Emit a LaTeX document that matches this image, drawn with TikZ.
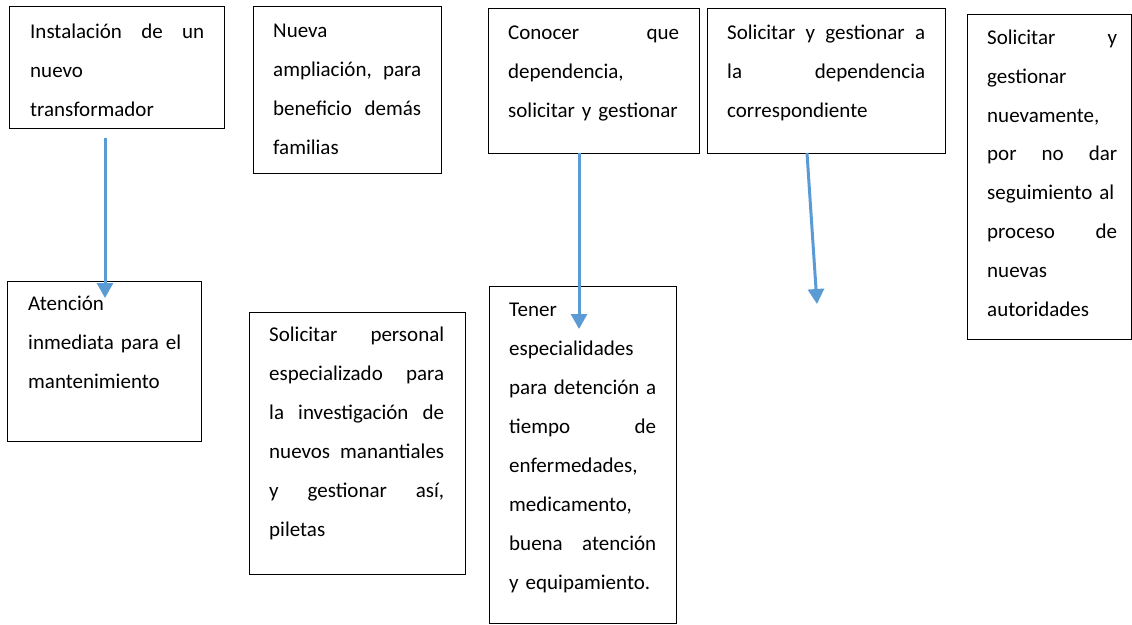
\documentclass[tikz,border=0pt]{standalone}
\usepackage{fontspec}
\setmainfont{Carlito}
\usetikzlibrary{arrows.meta}
\definecolor{arrowblue}{HTML}{5B9BD5}
\newcommand\J[1]{\leavevmode\hbox to \hsize{\spaceskip=0.3em plus 10em\relax #1}}
\newcommand\F{\rule{0pt}{17pt}}
\tikzset{
  box/.style={draw=black, line width=1.1pt, inner sep=0pt, anchor=north west},
  txt/.style={inner sep=0pt, anchor=north west, align=left, font=\fontsize{21}{38.9}\selectfont},
  conn/.style={draw=arrowblue, line width=3pt, -{Triangle[width=16pt,length=15pt]}}
}
\begin{document}
\begin{tikzpicture}[x=1pt,y=-1pt]
\useasboundingbox (0,0) rectangle (1132,624);
% boxes
\node[box, minimum width=215pt, minimum height=122pt] (b1) at (9,6) {};
\node[box, minimum width=188pt, minimum height=167pt] (b2) at (253,6) {};
\node[box, minimum width=211pt, minimum height=145pt] (b3) at (488,8) {};
\node[box, minimum width=238pt, minimum height=145pt] (b4) at (707,8) {};
\node[box, minimum width=164pt, minimum height=325pt] (b5) at (967,14) {};
\node[box, minimum width=194pt, minimum height=160pt] (b6) at (7,281) {};
\node[box, minimum width=216pt, minimum height=262pt] (b7) at (249,312) {};
\node[box, minimum width=187pt, minimum height=337pt] (b8) at (489,286) {};
% texts
\node[txt, text width=174pt] (t1) at (30,21) {\J{\F Instalación de un}\\nuevo\\transformador};
\node[txt, text width=148pt] (t2) at (273,20.5) {\F Nueva\\\J{ampliación, para}\\\J{beneficio demás}\\familias};
\node[txt, text width=171pt] (t3) at (508,22) {\J{\F Conocer que}\\dependencia,\\solicitar y gestionar};
\node[txt, text width=198pt] (t4) at (727,22) {\J{\F Solicitar y gestionar a}\\\J{la dependencia}\\correspondiente};
\node[txt, text width=130pt] (t5) at (987,27) {\J{\F Solicitar y}\\gestionar\\nuevamente,\\\J{por no dar}\\seguimiento al\\\J{proceso de}\\nuevas\\autoridades};
\node[txt, text width=153pt] (t6) at (28,293.5) {\F Atención\\inmediata para el\\mantenimiento};
\node[txt, text width=175pt] (t7) at (269,324.5) {\J{\F Solicitar personal}\\\J{especializado para}\\\J{la investigación de}\\\J{nuevos manantiales}\\\J{y gestionar así,}\\piletas};
\node[txt, text width=147pt] (t8) at (509,299.5) {\F Tener\\especialidades\\\J{para detención a}\\\J{tiempo de}\\enfermedades,\\medicamento,\\\J{buena atención}\\y equipamiento.};
% arrows
\coordinate (a1s) at (105,138);
\coordinate (a1e) at (105,298);
\coordinate (a2s) at (579,153);
\coordinate (a2e) at (579,329);
\coordinate (a3s) at (807,153);
\coordinate (a3e) at (817,304);
\draw[conn] (a1s) -- (a1e);
\draw[conn] (a2s) -- (a2e);
\draw[conn] (a3s) -- (a3e);
\end{tikzpicture}
\end{document}
